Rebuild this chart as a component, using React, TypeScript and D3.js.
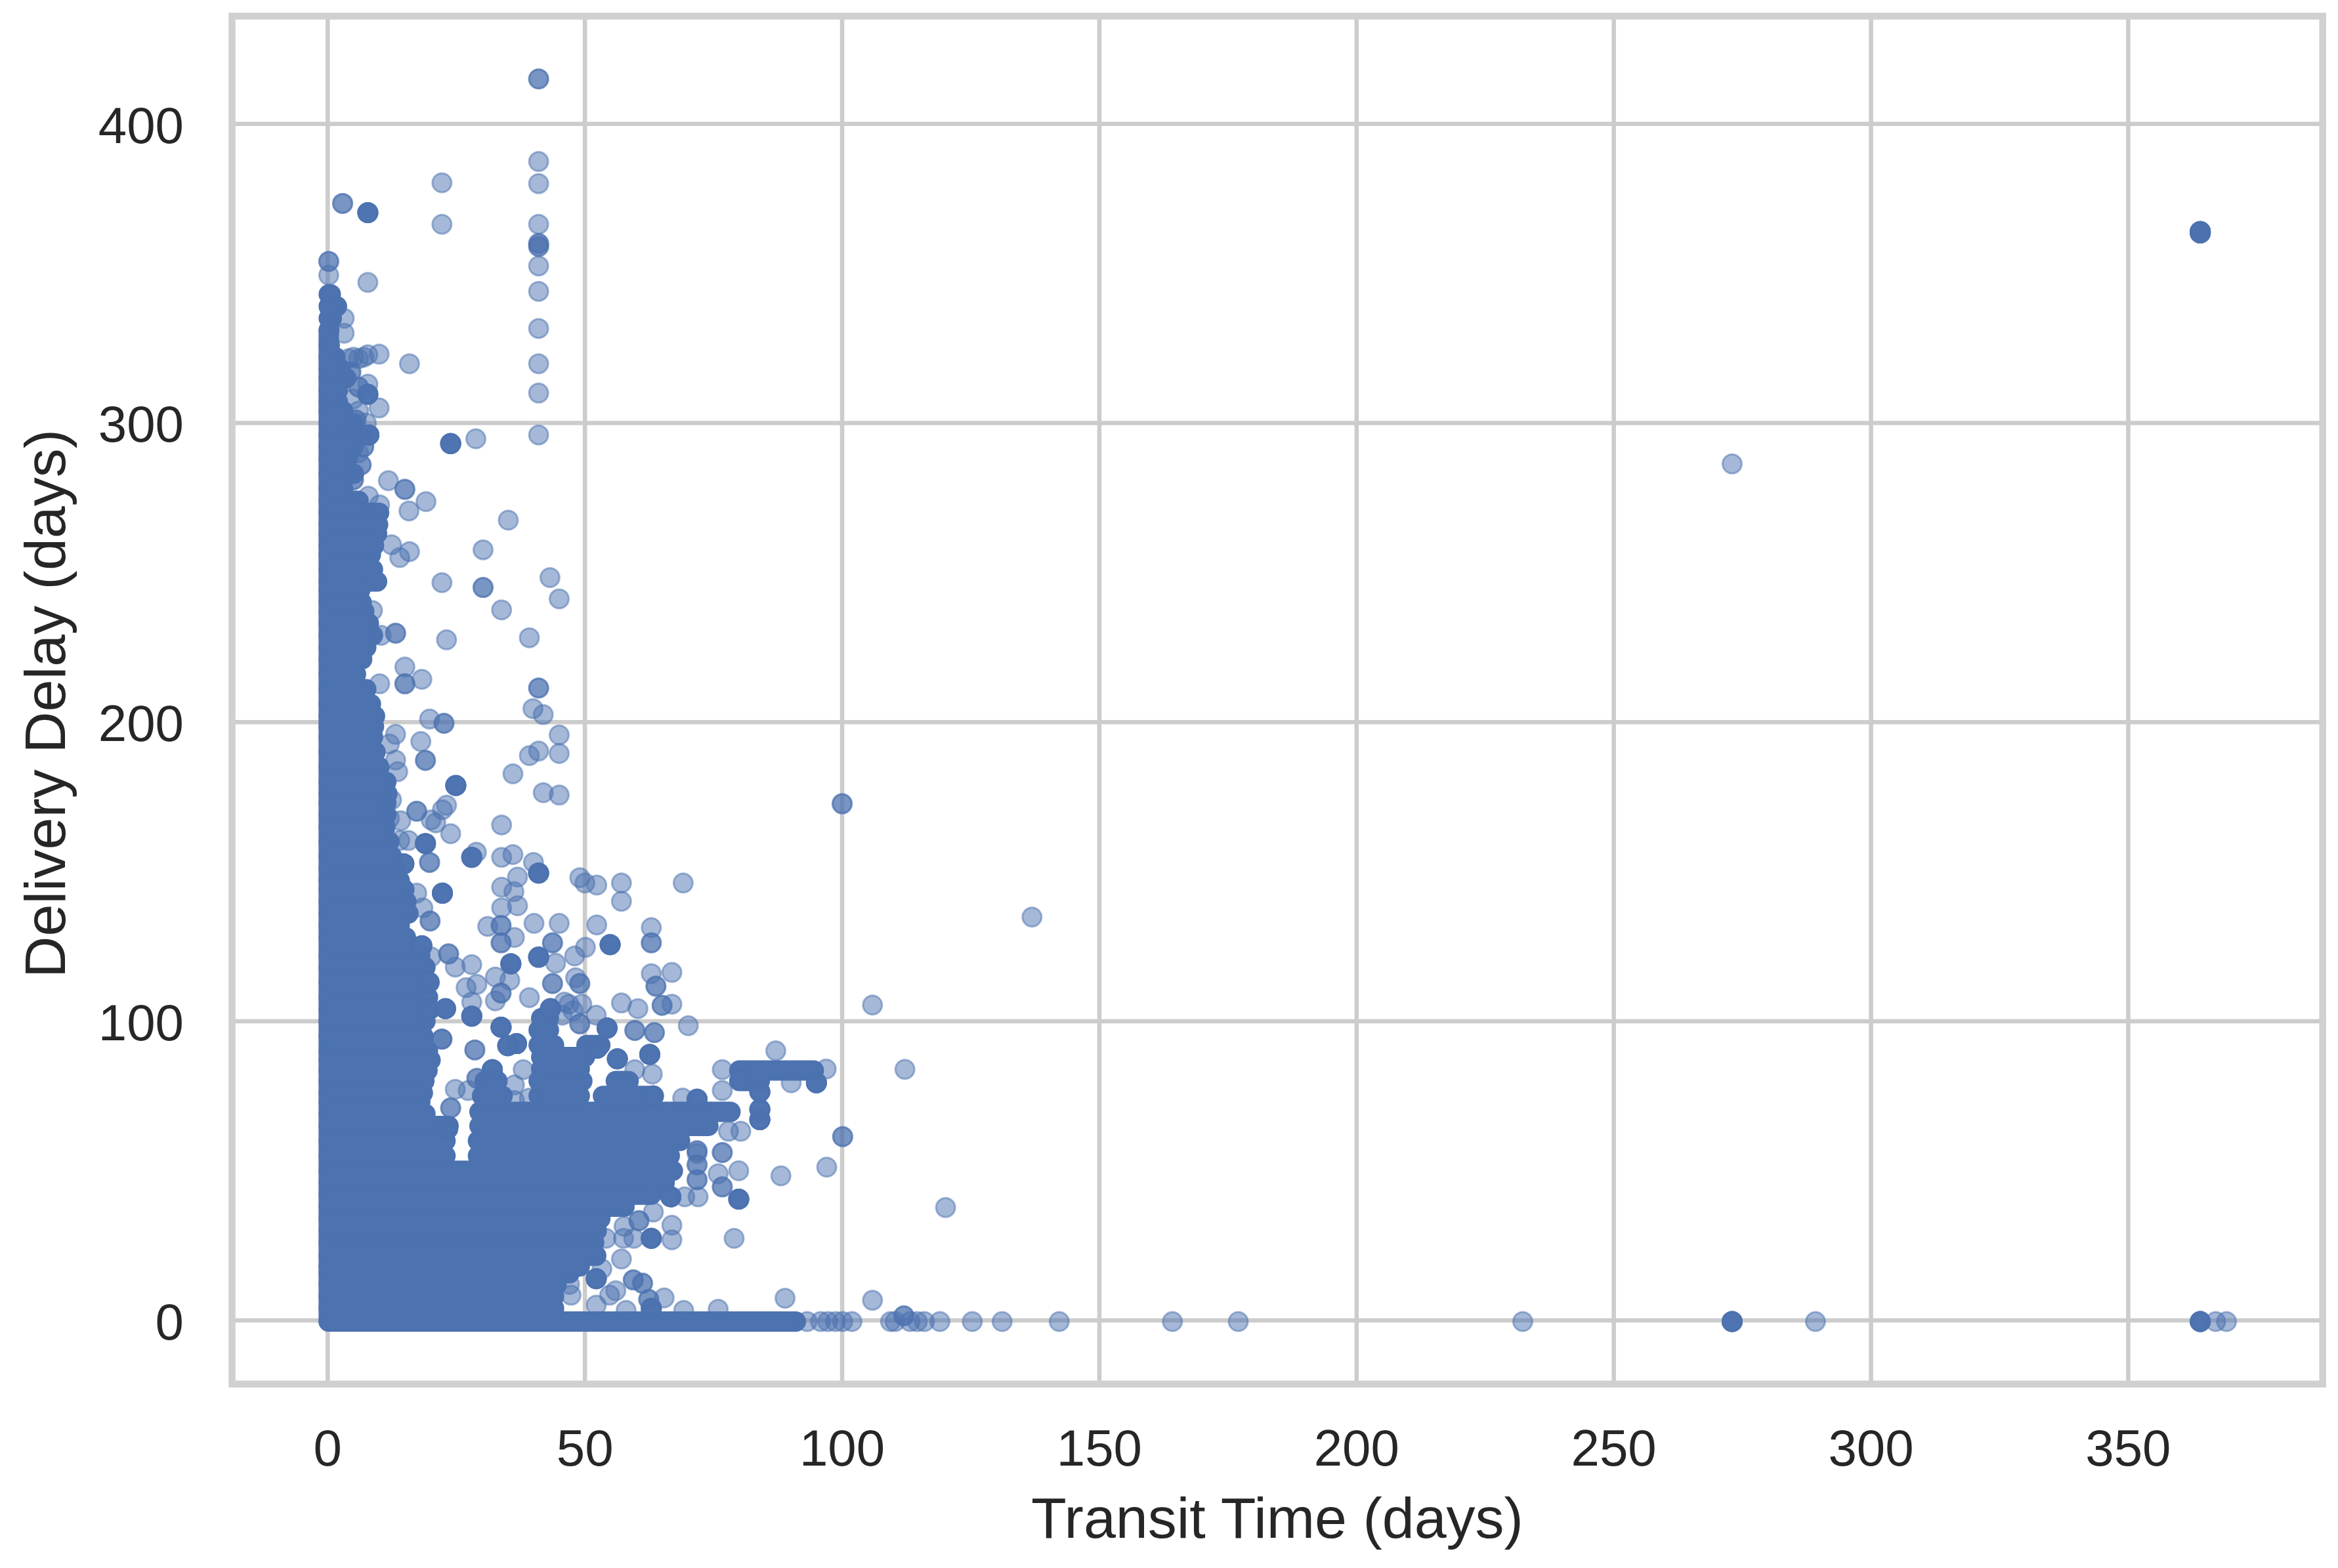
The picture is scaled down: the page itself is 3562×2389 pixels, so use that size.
import { scaleLinear } from 'd3'

const chartWidth = 3562
const chartHeight = 2389

const plot = { left: 353.5, right: 3538.7, top: 24.6, bottom: 2108.7 }

const transitDomain = [-18.6, 387.8]
const delayDomain = [-21.3, 436]

const transitTicks = [0, 50, 100, 150, 200, 250, 300, 350]
const delayTicks = [0, 100, 200, 300, 400]

const pointColor = '#4c72b0'

// single shipments as [transit, delay]
const singlePoints = [
  [41, 387.4], [41, 380], [41, 366.4], [41, 352.5], [41, 344], [41, 331.6], [41, 319.8], [41, 310], [41, 296],
  [22.2, 380.3], [22.2, 366.4], [0.2, 349.4], [7.8, 347], [3.2, 335], [3.2, 330],
  [4, 321.5], [5, 322], [6, 321.5], [7, 322], [7.8, 322.8], [10, 323], [15.9, 319.8],
  [7.8, 313], [5, 308], [10, 305], [6, 304], [7.5, 300], [28.8, 294.7], [6, 290], [4.5, 298],
  [11.8, 280.7], [19.1, 273.7], [15.8, 270.6], [35.1, 267.5], [30.2, 257.6], [15.9, 257], [14, 255], [12.4, 259.3],
  [7.9, 275.5], [10.1, 272.6], [8.7, 237.3], [10.4, 229], [12, 192.7], [12.4, 174], [12, 167.8], [14, 160.4], [15.7, 160.4],
  [17.3, 142.8], [18.5, 137.9], [20.1, 121.5],
  [22.2, 246.6], [43.2, 248.3], [45, 241.2], [33.8, 237.5], [23.1, 227.5], [39.2, 228.2],
  [15, 218.4], [18.3, 214.3], [10.1, 212.8], [39.9, 204.5], [41.9, 202.5], [19.8, 201],
  [45, 195.7], [13.2, 195.9], [18.1, 193.5], [41, 190.3], [39.2, 188.8], [45, 189.5], [13.2, 187.3], [13.6, 183.4],
  [36, 182.7], [41.9, 176.4], [45, 175.6], [23.1, 172.2], [22.3, 170.7], [14.2, 167], [20.1, 167.3], [21, 166.3],
  [33.8, 165.6], [23.9, 162.7], [28.9, 156.5], [33.8, 154.8], [36, 155.7], [40, 153.1], [36.9, 148.2],
  [33.8, 144.8], [36.2, 143.3], [49, 148], [50, 146.2], [52.3, 145.5], [57.1, 146.2], [69.1, 146.2], [57.1, 140.1],
  [33.8, 137.9], [36.9, 138.6], [136.9, 134.8], [105.9, 105.4], [112.2, 83.9],
  [31.1, 131.7], [40.1, 132.7], [45, 132.7], [52.3, 132.2], [62.9, 131.3],
  [36.3, 128], [50.1, 124.7], [48, 121.8], [44.3, 119.4], [24.8, 118.1], [28, 118.9],
  [32.6, 114.8], [35.4, 113.7], [29, 112.3], [26.9, 111.2], [48.2, 114.5], [62.9, 115.9], [66.9, 116.3],
  [32.6, 106.8], [39.2, 107.9], [28, 106.4], [57.1, 106.1], [60.3, 104.2], [66.9, 105.7],
  [52.2, 102], [46.9, 105.7], [49.4, 105.7], [47.7, 103.5], [45.6, 102], [46, 106.4], [70.1, 98.5], [22.2, 94],
  [63.1, 82.3], [59.7, 83.8], [38, 83.8], [36.3, 78.7], [36.3, 73.5], [39.2, 74.3], [24.8, 77.2], [27.3, 76.8],
  [87.1, 90.1], [76.7, 83.8], [96.9, 84], [76.7, 76.8], [90.1, 79.4], [69, 74.3],
  [80.3, 63.2], [77.9, 63.2], [71.8, 55.8], [79.9, 50], [75.9, 49], [88.1, 48.3], [97, 51.2],
  [72, 41.3], [69.4, 41.3], [66.9, 31.8], [66.9, 26.9], [79, 27.4], [57.1, 20.5], [65.4, 7.5],
  [88.9, 7.4], [75.9, 3.7], [57.5, 27.4], [59.5, 27.4], [54.1, 27.4], [63.3, 36.2], [57.6, 31.4], [53.3, 17.2],
  [47, 12], [47.3, 8.4], [52.2, 5.1], [54.8, 8.4], [56, 9.9], [58, 3.3], [69.2, 3.3],
  [120.1, 37.7], [105.9, 6.7], [273, 286.3],
  [93.2, -0.4], [95.8, -0.4], [97.2, -0.4], [98.7, -0.4], [100.1, -0.4], [101.9, -0.4], [109.4, -0.4], [110.3, -0.4], [113.2, -0.4], [114.6, -0.4],
  [116, -0.4], [119, -0.4], [125.3, -0.4], [131.1, -0.4], [142.2, -0.4], [164.2, -0.4], [177, -0.4], [232.3, -0.4], [289.2, -0.4], [367, -0.4], [369.1, -0.4],
]

// spots where two shipments land on top of each other
const doublePoints = [
  [0.2, 354], [2.9, 373.4], [41, 415], [41, 359], [41, 360], [15, 277.8], [30.2, 245], [13.2, 229.7], [15, 212.8],
  [41, 211.4], [22.6, 199.6], [19, 187.2], [100, 172.7], [17.3, 170.2], [19.8, 153.1], [62.9, 126.2],
  [33.7, 132], [33.7, 126.2], [19.9, 133.5], [43.7, 126.2], [23.5, 122.5], [43.7, 112.6], [49, 112.6], [63.8, 111.7],
  [33.7, 109.4], [65, 105.3], [59.7, 96.9], [63.5, 96.2], [49, 99.1], [28.6, 90.4], [29, 80.9], [23.9, 71],
  [22.2, 94], [76.7, 56.1], [76.7, 44.6], [100.1, 61.4], [71.8, 52], [71.8, 47], [60.5, 33.3], [59.4, 13.5], [62.4, 7], [112, 1.5],
  [61.2, 12.4], [71.8, 56.7], [4.5, 317], [6, 312], [5.5, 301], [7, 292], [6.5, 286], [5, 281],
]

// spots stacked so deep that they read as solid colour
const stackedPoints = [
  [7.8, 370.3], [364, 364], [364, 363.5], [273, -0.4], [364, -0.4], [8, 296], [23.9, 293.1], [7.8, 309.6],
  [24.9, 178.8], [19, 159.4], [14.8, 152.6], [28, 154.8], [41, 149.5], [22.3, 142.8], [54.9, 125.6], [18.3, 125.2],
  [35.6, 119.2], [41, 121.4], [19.7, 113], [19.6, 104.2], [22.9, 104.2], [28, 101.7], [43.3, 104.2], [33.7, 98], [36.7, 92.5], [35, 91.8],
  [32, 83.8], [54.3, 97.7], [56.3, 87.4], [52.4, 91], [62.6, 88.9], [63.3, 75], [23.3, 64],
  [71.8, 73.9], [84, 67.1], [84, 70.5], [95, 79.4], [84, 76.4], [80.3, 80.3], [79.9, 40.5], [62.9, 27.4], [62.9, 4], [52.2, 13.9], [66.7, 41.3],
]

// the saturated mass, read row by row as [delay, from transit, to transit]
const massRows = [
  [343, 0.2, 0.6], [339, 0.2, 1.8], [335, 0.2, 0.8], [331, 0.2, 0.3], [326, 0.2, 0.4], [322, 0.2, 1.5], [318, 0.2, 2.5],
  [315, 0.2, 3.6], [311, 0.2, 2], [307, 0.2, 2], [304, 0.2, 3], [300, 0.2, 5], [296, 0.2, 7], [292, 0.2, 5], [288, 0.2, 3.9],
  [283, 0.2, 5.1], [278, 0.2, 3], [274, 0.2, 6], [270, 0.2, 10], [266, 0.2, 9.8], [263, 0.2, 9.6], [259, 0.2, 9], [256, 0.2, 8.4],
  [251, 0.2, 8.8], [247, 0.2, 9.6], [244, 0.2, 6.3], [240, 0.2, 6.6], [237, 0.2, 7.1], [233, 0.2, 8], [229, 0.2, 8.8], [225, 0.2, 7.5],
  [221, 0.2, 6.7], [216, 0.2, 5.5], [211, 0.2, 7.5], [206, 0.2, 8.4], [202, 0.2, 9.2], [198.5, 0.2, 9], [195, 0.2, 8.8], [190, 0.2, 9.3], [185, 0.2, 10],
  [180, 0.2, 11.4], [176, 0.2, 11.6], [173, 0.2, 11.4], [169, 0.2, 11.4], [165, 0.2, 11.2], [160, 0.2, 12], [155, 0.2, 12.5], [151, 0.2, 13.2],
  [147, 0.2, 14], [144, 0.2, 14.9], [140, 0.2, 15.3], [136, 0.2, 15.7], [132, 0.2, 14], [128, 0.2, 15.2], [122, 0.2, 18], [118, 0.2, 19],
  [113, 0.2, 19.7], [108, 0.2, 19.5], [104, 0.2, 20], [100, 0.2, 19], [95, 0.2, 18.6], [90, 0.2, 19.5], [87, 0.2, 20], [83.5, 0.2, 19.4], [80, 0.2, 18.8],
  [76, 0.2, 18.5], [73, 0.2, 18], [69, 0.2, 19], [65, 0.2, 23.5], [60, 0.2, 22.9], [55, 0.2, 22.9],
  [50, 0.2, 67.1], [46, 0.2, 65.5], [42, 0.2, 62.9], [38, 0.2, 57.7], [34, 0.2, 53], [30, 0.2, 52.3], [26, 0.2, 51.8],
  [21.6, 0.2, 52.2], [18, 0.2, 49], [15.7, 0.2, 47], [12, 0.2, 44.5], [8, 0.2, 44], [4, 0.2, 44], [-0.4, 0.2, 91],
  [55, 29.2, 66.5], [60, 29.2, 68.5], [65, 29.5, 74], [69.7, 29.5, 78.3],
  [75, 30, 34], [75, 41, 49], [75, 53.5, 63], [80, 30.5, 33], [80, 41, 49.5], [80, 56, 58.5],
  [84, 41.5, 49], [88, 41.5, 50], [92, 41, 44], [92, 50.3, 53], [97, 41, 43], [101, 41.5, 43],
  [83.5, 80, 94.5], [80, 80, 84],
]

const massLeftEdge = { transit: 0.2, delayTop: 331, delayBottom: -0.4 }

const xScale = scaleLinear().domain(transitDomain).range([plot.left, plot.right])
const yScale = scaleLinear().domain(delayDomain).range([plot.bottom, plot.top])

function Dot({ point, copies }: { point: number[]; copies: number }) {
  return (
    <>
      {Array.from({ length: copies }, (_, index) => (
        <circle
          key={index}
          cx={xScale(point[0])}
          cy={yScale(point[1])}
          r={14.5}
          fill={pointColor}
          fillOpacity={0.5}
          stroke={pointColor}
          strokeOpacity={0.5}
          strokeWidth={3}
        />
      ))}
    </>
  )
}

function App() {
  const fontFamily = '"Liberation Sans", Arial, sans-serif'

  return (
    <svg
      width={chartWidth}
      height={chartHeight}
      viewBox={`0 0 ${chartWidth} ${chartHeight}`}
      style={{ position: 'absolute', left: 0, top: 0, display: 'block', background: '#fff' }}
      fontFamily={fontFamily}
      role="img"
      aria-label="Delivery delay against transit time"
    >
      {transitTicks.map((tick) => (
        <line key={`x-grid-${tick}`} x1={xScale(tick)} x2={xScale(tick)} y1={plot.top} y2={plot.bottom} stroke="#cccccc" strokeWidth={6.5} />
      ))}
      {delayTicks.map((tick) => (
        <line key={`y-grid-${tick}`} x1={plot.left} x2={plot.right} y1={yScale(tick)} y2={yScale(tick)} stroke="#cccccc" strokeWidth={6.5} />
      ))}

      <rect
        x={plot.left}
        y={plot.top}
        width={plot.right - plot.left}
        height={plot.bottom - plot.top}
        fill="none"
        stroke="#d0d0d0"
        strokeWidth={10.5}
      />

      <g stroke={pointColor} strokeWidth={31} strokeLinecap="round">
        <line
          x1={xScale(massLeftEdge.transit)}
          x2={xScale(massLeftEdge.transit)}
          y1={yScale(massLeftEdge.delayTop)}
          y2={yScale(massLeftEdge.delayBottom)}
        />
        {massRows.map((row, index) => (
          <line key={index} x1={xScale(row[1])} x2={xScale(row[2])} y1={yScale(row[0])} y2={yScale(row[0])} />
        ))}
      </g>

      {singlePoints.map((point, index) => (
        <Dot key={`single-${index}`} point={point} copies={1} />
      ))}
      {doublePoints.map((point, index) => (
        <Dot key={`double-${index}`} point={point} copies={2} />
      ))}
      {stackedPoints.map((point, index) => (
        <Dot key={`stacked-${index}`} point={point} copies={6} />
      ))}

      {transitTicks.map((tick) => (
        <text key={`x-label-${tick}`} x={xScale(tick)} y={2233} textAnchor="middle" fontSize={78} fill="#262626">
          {tick}
        </text>
      ))}
      {delayTicks.map((tick) => (
        <text key={`y-label-${tick}`} x={280} y={yScale(tick) + 29} textAnchor="end" fontSize={78} fill="#262626">
          {tick}
        </text>
      ))}

      <text x={1946} y={2343} textAnchor="middle" fontSize={88} fill="#262626">
        Transit Time (days)
      </text>
      <text transform="translate(98.7, 1072) rotate(-90)" textAnchor="middle" fontSize={88} fill="#262626">
        Delivery Delay (days)
      </text>
    </svg>
  )
}

export default App
